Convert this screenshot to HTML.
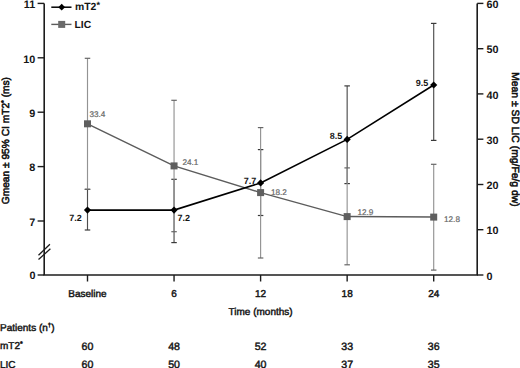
<!DOCTYPE html><html><head><meta charset="utf-8"><style>html,body{margin:0;padding:0;background:#fff;}svg{display:block;font-family:"Liberation Sans",sans-serif;text-rendering:geometricPrecision;}.r{fill:#151515;stroke:#151515;stroke-width:0.45px;}.b{fill:#151515;font-weight:bold;}.t{fill:#111;stroke:#111;stroke-width:0.55px;}</style></head><body>
<svg width="520" height="368" viewBox="0 0 520 368">
<rect width="520" height="368" fill="#fff"/>
<line x1="87.5" y1="189.3" x2="87.5" y2="230.0" stroke="#4d4d4d" stroke-width="1.15"/><line x1="84.75" y1="189.3" x2="90.25" y2="189.3" stroke="#3a3a3a" stroke-width="1.2"/><line x1="84.75" y1="230.0" x2="90.25" y2="230.0" stroke="#3a3a3a" stroke-width="1.2"/>
<line x1="174.05" y1="179.3" x2="174.05" y2="242.6" stroke="#4d4d4d" stroke-width="1.15"/><line x1="171.3" y1="179.3" x2="176.8" y2="179.3" stroke="#3a3a3a" stroke-width="1.2"/><line x1="171.3" y1="242.6" x2="176.8" y2="242.6" stroke="#3a3a3a" stroke-width="1.2"/>
<line x1="260.6" y1="149.6" x2="260.6" y2="215.5" stroke="#4d4d4d" stroke-width="1.15"/><line x1="257.85" y1="149.6" x2="263.35" y2="149.6" stroke="#3a3a3a" stroke-width="1.2"/><line x1="257.85" y1="215.5" x2="263.35" y2="215.5" stroke="#3a3a3a" stroke-width="1.2"/>
<line x1="347.15" y1="85.9" x2="347.15" y2="183.6" stroke="#4d4d4d" stroke-width="1.15"/><line x1="344.4" y1="85.9" x2="349.9" y2="85.9" stroke="#3a3a3a" stroke-width="1.2"/><line x1="344.4" y1="183.6" x2="349.9" y2="183.6" stroke="#3a3a3a" stroke-width="1.2"/>
<line x1="433.7" y1="23.4" x2="433.7" y2="140.4" stroke="#4d4d4d" stroke-width="1.15"/><line x1="430.95" y1="23.4" x2="436.45" y2="23.4" stroke="#3a3a3a" stroke-width="1.2"/><line x1="430.95" y1="140.4" x2="436.45" y2="140.4" stroke="#3a3a3a" stroke-width="1.2"/>
<line x1="87.5" y1="58.3" x2="87.5" y2="189.4" stroke="#939393" stroke-width="1.15"/><line x1="84.75" y1="58.3" x2="90.25" y2="58.3" stroke="#666" stroke-width="1.2"/><line x1="84.75" y1="189.4" x2="90.25" y2="189.4" stroke="#666" stroke-width="1.2"/>
<line x1="174.05" y1="100.3" x2="174.05" y2="231.7" stroke="#939393" stroke-width="1.15"/><line x1="171.3" y1="100.3" x2="176.8" y2="100.3" stroke="#666" stroke-width="1.2"/><line x1="171.3" y1="231.7" x2="176.8" y2="231.7" stroke="#666" stroke-width="1.2"/>
<line x1="260.6" y1="127.6" x2="260.6" y2="258.0" stroke="#939393" stroke-width="1.15"/><line x1="257.85" y1="127.6" x2="263.35" y2="127.6" stroke="#666" stroke-width="1.2"/><line x1="257.85" y1="258.0" x2="263.35" y2="258.0" stroke="#666" stroke-width="1.2"/>
<line x1="347.15" y1="167.9" x2="347.15" y2="264.8" stroke="#939393" stroke-width="1.15"/><line x1="344.4" y1="167.9" x2="349.9" y2="167.9" stroke="#666" stroke-width="1.2"/><line x1="344.4" y1="264.8" x2="349.9" y2="264.8" stroke="#666" stroke-width="1.2"/>
<line x1="433.7" y1="164.3" x2="433.7" y2="270.1" stroke="#939393" stroke-width="1.15"/><line x1="430.95" y1="164.3" x2="436.45" y2="164.3" stroke="#666" stroke-width="1.2"/><line x1="430.95" y1="270.1" x2="436.45" y2="270.1" stroke="#666" stroke-width="1.2"/>
<line x1="44.2" y1="3.4" x2="44.2" y2="275" stroke="#1c1c1c" stroke-width="1.6"/>
<line x1="477.2" y1="3.4" x2="477.2" y2="275" stroke="#1c1c1c" stroke-width="1.6"/>
<line x1="43.4" y1="275" x2="478" y2="275" stroke="#1c1c1c" stroke-width="1.7"/>
<line x1="37.6" y1="3.4" x2="44.2" y2="3.4" stroke="#1c1c1c" stroke-width="1.4"/>
<text class="b" x="35.2" y="8.1" font-size="10.8" text-anchor="end">11</text>
<line x1="37.6" y1="57.8" x2="44.2" y2="57.8" stroke="#1c1c1c" stroke-width="1.4"/>
<text class="b" x="35.2" y="62.5" font-size="10.8" text-anchor="end">10</text>
<line x1="37.6" y1="112.2" x2="44.2" y2="112.2" stroke="#1c1c1c" stroke-width="1.4"/>
<text class="b" x="35.2" y="116.9" font-size="10.8" text-anchor="end">9</text>
<line x1="37.6" y1="166.6" x2="44.2" y2="166.6" stroke="#1c1c1c" stroke-width="1.4"/>
<text class="b" x="35.2" y="171.3" font-size="10.8" text-anchor="end">8</text>
<line x1="37.6" y1="221.0" x2="44.2" y2="221.0" stroke="#1c1c1c" stroke-width="1.4"/>
<text class="b" x="35.2" y="225.7" font-size="10.8" text-anchor="end">7</text>
<line x1="37.6" y1="275" x2="44.2" y2="275" stroke="#1c1c1c" stroke-width="1.4"/>
<text class="b" x="35.5" y="279.1" font-size="10.8" text-anchor="end">0</text>
<line x1="38.5" y1="255.2" x2="49.9" y2="244.3" stroke="#1c1c1c" stroke-width="1.3"/>
<line x1="38.5" y1="259.6" x2="50.4" y2="248.7" stroke="#1c1c1c" stroke-width="1.3"/>
<line x1="477.2" y1="3.4" x2="483.4" y2="3.4" stroke="#1c1c1c" stroke-width="1.4"/>
<text class="b" x="486.4" y="8.1" font-size="10.8">60</text>
<line x1="477.2" y1="48.7" x2="483.4" y2="48.7" stroke="#1c1c1c" stroke-width="1.4"/>
<text class="b" x="486.4" y="53.4" font-size="10.8">50</text>
<line x1="477.2" y1="93.9" x2="483.4" y2="93.9" stroke="#1c1c1c" stroke-width="1.4"/>
<text class="b" x="486.4" y="98.6" font-size="10.8">40</text>
<line x1="477.2" y1="139.2" x2="483.4" y2="139.2" stroke="#1c1c1c" stroke-width="1.4"/>
<text class="b" x="486.4" y="143.9" font-size="10.8">30</text>
<line x1="477.2" y1="184.5" x2="483.4" y2="184.5" stroke="#1c1c1c" stroke-width="1.4"/>
<text class="b" x="486.4" y="189.2" font-size="10.8">20</text>
<line x1="477.2" y1="229.7" x2="483.4" y2="229.7" stroke="#1c1c1c" stroke-width="1.4"/>
<text class="b" x="486.4" y="234.4" font-size="10.8">10</text>
<line x1="477.2" y1="275.0" x2="483.4" y2="275.0" stroke="#1c1c1c" stroke-width="1.4"/>
<text class="b" x="486.4" y="279.7" font-size="10.8">0</text>
<line x1="87.5" y1="275" x2="87.5" y2="281.5" stroke="#1c1c1c" stroke-width="1.4"/>
<line x1="174.05" y1="275" x2="174.05" y2="281.5" stroke="#1c1c1c" stroke-width="1.4"/>
<line x1="260.6" y1="275" x2="260.6" y2="281.5" stroke="#1c1c1c" stroke-width="1.4"/>
<line x1="347.15" y1="275" x2="347.15" y2="281.5" stroke="#1c1c1c" stroke-width="1.4"/>
<line x1="433.7" y1="275" x2="433.7" y2="281.5" stroke="#1c1c1c" stroke-width="1.4"/>
<text class="r" x="87.5" y="297" font-size="10" text-anchor="middle">Baseline</text>
<text class="r" x="174.05" y="297" font-size="10" text-anchor="middle">6</text>
<text class="r" x="260.6" y="297" font-size="10" text-anchor="middle">12</text>
<text class="r" x="347.15" y="297" font-size="10" text-anchor="middle">18</text>
<text class="r" x="433.7" y="297" font-size="10" text-anchor="middle">24</text>
<text class="r" x="260.6" y="315" font-size="10" text-anchor="middle">Time (months)</text>
<text class="t" transform="translate(8.6,140.6) rotate(-90)" font-size="10.2" text-anchor="middle">Gmean ± 95% CI mT2<tspan font-size="7" dy="-2.5">*</tspan><tspan dy="2.5"> (ms)</tspan></text>
<text class="t" transform="translate(512.4,139.4) rotate(90)" font-size="10.35" text-anchor="middle">Mean ± SD LIC (mg/Fe/g dw)</text>
<polyline points="87.5,123.8 174.05,165.9 260.6,192.6 347.15,216.6 433.7,217.1" fill="none" stroke="#5c5c5c" stroke-width="1.5"/>
<rect x="84.0" y="120.3" width="7" height="7" fill="#5f5f5f"/>
<rect x="170.55" y="162.4" width="7" height="7" fill="#5f5f5f"/>
<rect x="257.1" y="189.1" width="7" height="7" fill="#5f5f5f"/>
<rect x="343.65" y="213.1" width="7" height="7" fill="#5f5f5f"/>
<rect x="430.2" y="213.6" width="7" height="7" fill="#5f5f5f"/>
<text x="89.4" y="116.8" font-size="8.2" fill="#666" stroke="#666" stroke-width="0.2">33.4</text>
<text x="182.4" y="164.6" font-size="8.2" fill="#666" stroke="#666" stroke-width="0.2">24.1</text>
<text x="270.9" y="194.8" font-size="8.2" fill="#666" stroke="#666" stroke-width="0.2">18.2</text>
<text x="357.4" y="214.5" font-size="8.2" fill="#666" stroke="#666" stroke-width="0.2">12.9</text>
<text x="444.0" y="222.2" font-size="8.2" fill="#666" stroke="#666" stroke-width="0.2">12.8</text>
<polyline points="87.5,210.1 174.05,210.1 260.6,182.9 347.15,139.4 433.7,85.0" fill="none" stroke="#000" stroke-width="1.6"/>
<polygon points="87.5,206.5 91.1,210.1 87.5,213.7 83.9,210.1" fill="#000"/>
<polygon points="174.05,206.5 177.65,210.1 174.05,213.7 170.45000000000002,210.1" fill="#000"/>
<polygon points="260.6,179.3 264.20000000000005,182.9 260.6,186.5 257.0,182.9" fill="#000"/>
<polygon points="347.15,135.8 350.75,139.4 347.15,143.0 343.54999999999995,139.4" fill="#000"/>
<polygon points="433.7,81.4 437.3,85.0 433.7,88.6 430.09999999999997,85.0" fill="#000"/>
<text class="b" x="69.2" y="220.8" font-size="9">7.2</text>
<text class="b" x="177.6" y="220.8" font-size="9">7.2</text>
<text class="b" x="243.7" y="183.8" font-size="9">7.7</text>
<text class="b" x="329.7" y="139.2" font-size="9">8.5</text>
<text class="b" x="415.7" y="85.8" font-size="9">9.5</text>
<line x1="51.3" y1="7.2" x2="71.5" y2="7.2" stroke="#000" stroke-width="1.5"/>
<polygon points="61.7,3.8 65.1,7.2 61.7,10.6 58.3,7.2" fill="#000"/>
<text class="b" x="74.9" y="9.8" font-size="10.4">mT2<tspan font-size="9" dy="-2.2" dx="0.1">*</tspan></text>
<line x1="51.3" y1="24.4" x2="71.5" y2="24.4" stroke="#5c5c5c" stroke-width="1.4"/>
<rect x="58.2" y="20.9" width="7" height="7" fill="#6a6a6a"/>
<text class="b" x="74.5" y="27.8" font-size="10.3">LIC</text>
<text class="r" x="0" y="330.5" font-size="10">Patients (n<tspan font-size="6" dy="-4">†</tspan><tspan dy="4">)</tspan></text>
<text class="r" x="0" y="349.4" font-size="10">mT2<tspan font-size="7" dy="-3">*</tspan></text>
<text class="r" x="0" y="367.8" font-size="10">LIC</text>
<text class="r" x="87.5" y="349.6" font-size="10.6" text-anchor="middle">60</text>
<text class="r" x="87.5" y="368" font-size="10.6" text-anchor="middle">60</text>
<text class="r" x="174.05" y="349.6" font-size="10.6" text-anchor="middle">48</text>
<text class="r" x="174.05" y="368" font-size="10.6" text-anchor="middle">50</text>
<text class="r" x="260.6" y="349.6" font-size="10.6" text-anchor="middle">52</text>
<text class="r" x="260.6" y="368" font-size="10.6" text-anchor="middle">40</text>
<text class="r" x="347.15" y="349.6" font-size="10.6" text-anchor="middle">33</text>
<text class="r" x="347.15" y="368" font-size="10.6" text-anchor="middle">37</text>
<text class="r" x="433.7" y="349.6" font-size="10.6" text-anchor="middle">36</text>
<text class="r" x="433.7" y="368" font-size="10.6" text-anchor="middle">35</text>
</svg></body></html>
